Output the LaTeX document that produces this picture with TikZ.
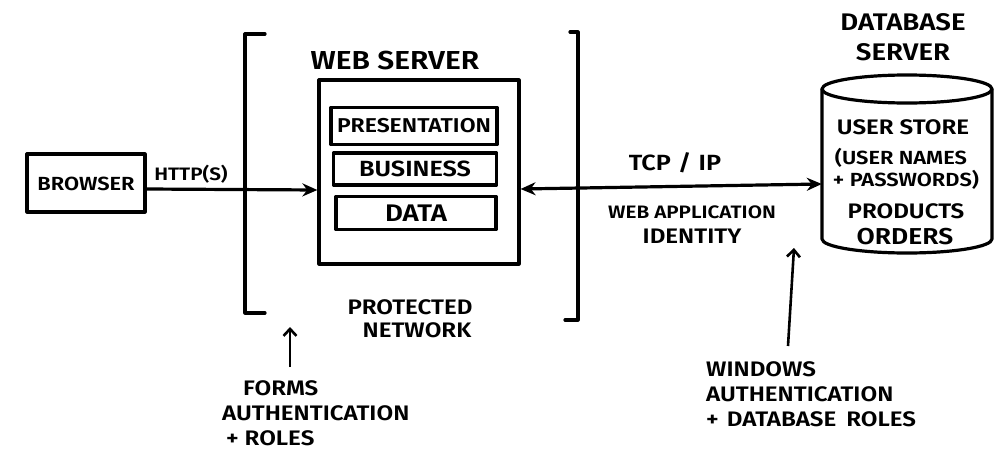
\documentclass[tikz,border=0pt]{standalone}
\usepackage{fontspec}
\setmainfont{Fira Sans}[UprightFont=* Medium, BoldFont=* SemiBold, FakeStretch=1.15]
\usetikzlibrary{arrows.meta}
\newcommand{\fsz}[1]{\fontsize{#1}{#1}\selectfont\bfseries}
\tikzset{
  ink/.style={line width=3.2pt, line cap=round, line join=round, draw=black},
  box/.style={ink, rectangle, inner sep=0pt},
  lbl/.style={inner sep=0pt, font=\fsz{20}},
  conn/.style={ink, -{Stealth[length=15pt,width=13pt]}},
  conn2/.style={ink, {Stealth[length=15pt,width=13pt]}-{Stealth[length=15pt,width=13pt]}},
  uparrow/.style={line width=2.6pt, -{Straight Barb[length=7pt,width=13pt]}},
}
\begin{document}
\begin{tikzpicture}[x=1pt,y=-1pt]
\useasboundingbox (0,0) rectangle (999,450);
\fill[white] (0,0) rectangle (999,450);

% browser
\node[box, minimum width=118pt, minimum height=58pt] (browser) at (86,183) {};
\node[lbl, font=\fontsize{19}{22}\selectfont\bfseries] (browsertxt) at (86,184) {BROWSER};

% brackets (protected network)
\coordinate (lbt) at (265,34);
\coordinate (lbb) at (265,313);
\draw[ink] (lbt) -- (245,34) -- (245,313) -- (lbb);
\coordinate (rbt) at (570,32);
\coordinate (rbb) at (565,320);
\draw[ink] (rbt) -- (578,32) -- (578,320) -- (rbb);

% web server
\node[lbl, font=\fsz{26}] (wstitle) at (395,61) {WEB SERVER};
\node[box, minimum width=200pt, minimum height=184pt] (web) at (419,172) {};
\node[box, minimum width=166pt, minimum height=37pt, font=\fsz{20}] (pres) at (414,126) {PRESENTATION};
\node[box, minimum width=163pt, minimum height=32pt, font=\fsz{22}] (bus) at (415,169) {BUSINESS};
\node[box, minimum width=160pt, minimum height=33pt, font=\fsz{24}] (data) at (416,213) {DATA};

% protected network label
\node[lbl, align=center, font=\fontsize{21}{23}\selectfont\bfseries] (prot) at (410,319) {PROTECTED\\\hspace*{14pt}NETWORK};

% database cylinder
\node[lbl, align=center, font=\fontsize{24}{30}\selectfont\bfseries] (dbtitle) at (903,37) {DATABASE\\SERVER};
\node[minimum width=170pt, minimum height=180pt, inner sep=0pt] (db) at (907,164) {};
\draw[ink] (907,89) ellipse[x radius=85, y radius=14];
\draw[ink] (822,89) -- (822,239)
  .. controls (822,246.7) and (860.1,253) .. (907,253)
  .. controls (953.9,253) and (992,246.7) .. (992,239) -- (992,89);
\node[lbl, font=\fsz{21}] (dbl1) at (903,127) {USER STORE};
\node[lbl, font=\fsz{19}] (dbl2) at (901,158) {(USER NAMES};
\node[lbl, font=\fsz{19}] (dbl3) at (906,180) {+ PASSWORDS)};
\node[lbl, font=\fsz{21}] (dbl4) at (906,211) {PRODUCTS};
\node[lbl, font=\fsz{23}] (dbl5) at (905,237) {ORDERS};

% connectors
\coordinate (webin) at (web.west |- 0,190);
\draw[conn] ([yshift=-6pt]browser.east) -- (webin);
\node[lbl, font=\fsz{18}] (http) at (191,174) {HTTP(S)};
\coordinate (dbin) at (db.west |- 0,184);
\coordinate (webout) at (web.east |- 0,189);
\draw[conn2] (webout) -- (dbin);
\node[lbl, font=\fsz{22}] (tcp) at (675,163) {TCP\,\,/\,\,IP};
\node[lbl, align=center, font=\fontsize{18}{25}\selectfont\bfseries] (ident) at (692,225) {WEB APPLICATION\\{\fsz{21}IDENTITY}};

% forms authentication
\node[lbl, align=left, anchor=north west, font=\fontsize{21}{25}\selectfont\bfseries] (forms) at (222,380)
  {\hspace*{21pt}FORMS\\AUTHENTICATION\\\hspace*{4pt}+ ROLES};
\coordinate (formstip) at (290,327);
\coordinate (formstail) at (290,367);
\draw[uparrow] (formstail) -- (formstip);

% windows authentication
\node[lbl, align=left, anchor=north west, font=\fontsize{21}{25}\selectfont\bfseries] (win) at (706,361)
  {WINDOWS\\AUTHENTICATION\\+\hspace{8pt}DATABASE\hspace{10pt}ROLES};
\coordinate (wintip) at (794,248);
\coordinate (wintail) at (788,346);
\draw[uparrow] (wintail) -- (wintip);
\end{tikzpicture}
\end{document}
